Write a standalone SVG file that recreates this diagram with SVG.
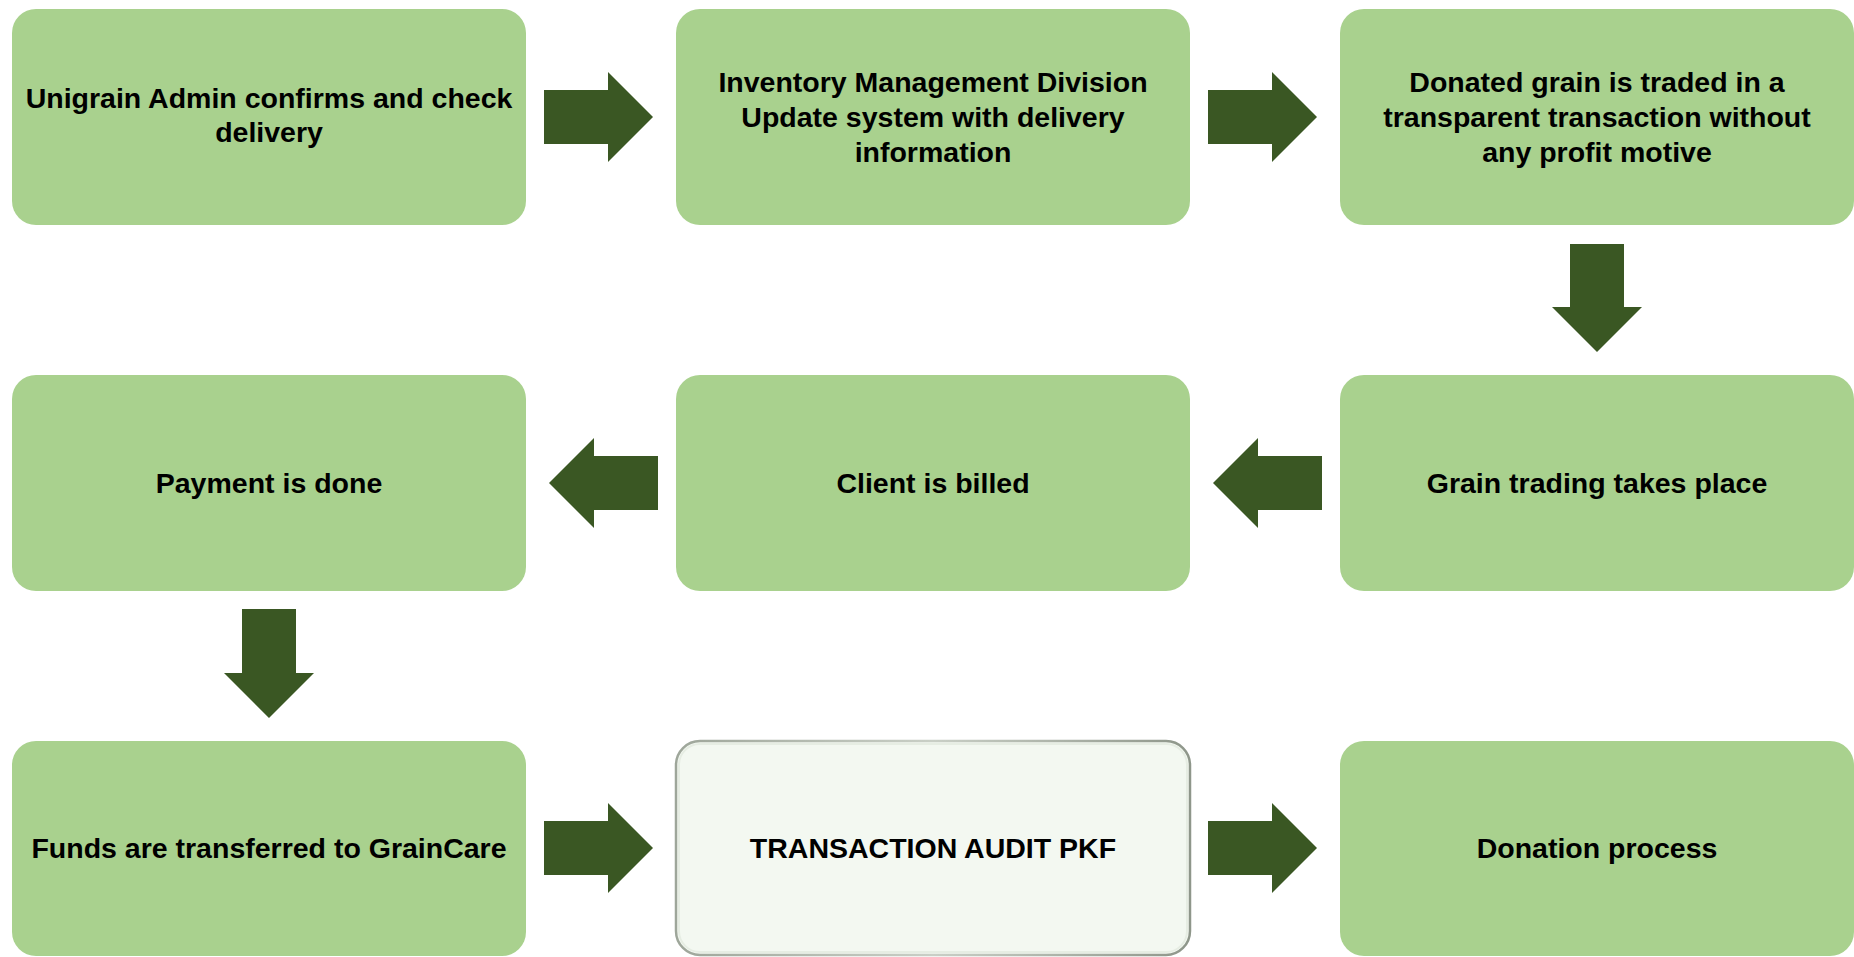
<svg xmlns="http://www.w3.org/2000/svg" width="1854" height="957" viewBox="0 0 1854 957">
  <defs>
    <style>
      .box { fill: #A9D18E; }
      .audit { fill: #F3F8F1; stroke: #B3B9AF; stroke-width: 2; }
      .arrow { fill: #3A5723; }
      .label { font-family: "Liberation Sans", Arial, sans-serif; font-weight: bold; font-size: 28.5px; fill: #000; text-anchor: middle; }
    </style>
    <linearGradient id="auditEdge" x1="0" y1="0" x2="1" y2="0">
      <stop offset="0" stop-color="#9EA69A"/>
      <stop offset="0.5" stop-color="#C9CFC6"/>
      <stop offset="1" stop-color="#8E968A"/>
    </linearGradient>
  </defs>

  <g id="connectors">
    <!-- row 1 right arrows -->
    <polygon class="arrow" points="544,90 608,90 608,72 653,117 608,162 608,144 544,144"/>
    <polygon class="arrow" points="1208,90 1272,90 1272,72 1317,117 1272,162 1272,144 1208,144"/>
    <!-- down arrow column 3 -->
    <polygon class="arrow" points="1570,244 1624,244 1624,307 1642,307 1597,352 1552,307 1570,307"/>
    <!-- row 2 left arrows -->
    <polygon class="arrow" points="1322,456 1258,456 1258,438 1213,483 1258,528 1258,510 1322,510"/>
    <polygon class="arrow" points="658,456 594,456 594,438 549,483 594,528 594,510 658,510"/>
    <!-- down arrow column 1 -->
    <polygon class="arrow" points="242,609 296,609 296,673 314,673 269,718 224,673 242,673"/>
    <!-- row 3 right arrows -->
    <polygon class="arrow" points="544,821 608,821 608,803 653,848 608,893 608,875 544,875"/>
    <polygon class="arrow" points="1208,821 1272,821 1272,803 1317,848 1272,893 1272,875 1208,875"/>
  </g>

  <g id="n1">
    <rect class="box" x="12" y="9" width="514" height="216" rx="24" ry="24"/>
    <text class="label" x="269" y="107.5">Unigrain Admin confirms and check</text>
    <text class="label" x="269" y="142">delivery</text>
  </g>
  <g id="n2">
    <rect class="box" x="676" y="9" width="514" height="216" rx="24" ry="24"/>
    <text class="label" x="933" y="91.5">Inventory Management Division</text>
    <text class="label" x="933" y="126.5">Update system with delivery</text>
    <text class="label" x="933" y="161.5">information</text>
  </g>
  <g id="n3">
    <rect class="box" x="1340" y="9" width="514" height="216" rx="24" ry="24"/>
    <text class="label" x="1597" y="91.5">Donated grain is traded in a</text>
    <text class="label" x="1597" y="126.5">transparent transaction without</text>
    <text class="label" x="1597" y="161.5">any profit motive</text>
  </g>
  <g id="n4">
    <rect class="box" x="1340" y="375" width="514" height="216" rx="24" ry="24"/>
    <text class="label" x="1597" y="493">Grain trading takes place</text>
  </g>
  <g id="n5">
    <rect class="box" x="676" y="375" width="514" height="216" rx="24" ry="24"/>
    <text class="label" x="933" y="493">Client is billed</text>
  </g>
  <g id="n6">
    <rect class="box" x="12" y="375" width="514" height="216" rx="24" ry="24"/>
    <text class="label" x="269" y="493">Payment is done</text>
  </g>
  <g id="n7">
    <rect class="box" x="12" y="741" width="514" height="215" rx="24" ry="24"/>
    <text class="label" x="269" y="858">Funds are transferred to GrainCare</text>
  </g>
  <g id="n8">
    <rect x="676" y="741" width="514" height="214" rx="24" ry="24" fill="#F3F8F1" stroke="url(#auditEdge)" stroke-width="2.5"/>
    <rect x="679" y="744" width="508" height="208" rx="21" ry="21" fill="none" stroke="#E6EDE3" stroke-width="2"/>
    <text class="label" x="933" y="858">TRANSACTION AUDIT PKF</text>
  </g>
  <g id="n9">
    <rect class="box" x="1340" y="741" width="514" height="215" rx="24" ry="24"/>
    <text class="label" x="1597" y="858">Donation process</text>
  </g>
</svg>
